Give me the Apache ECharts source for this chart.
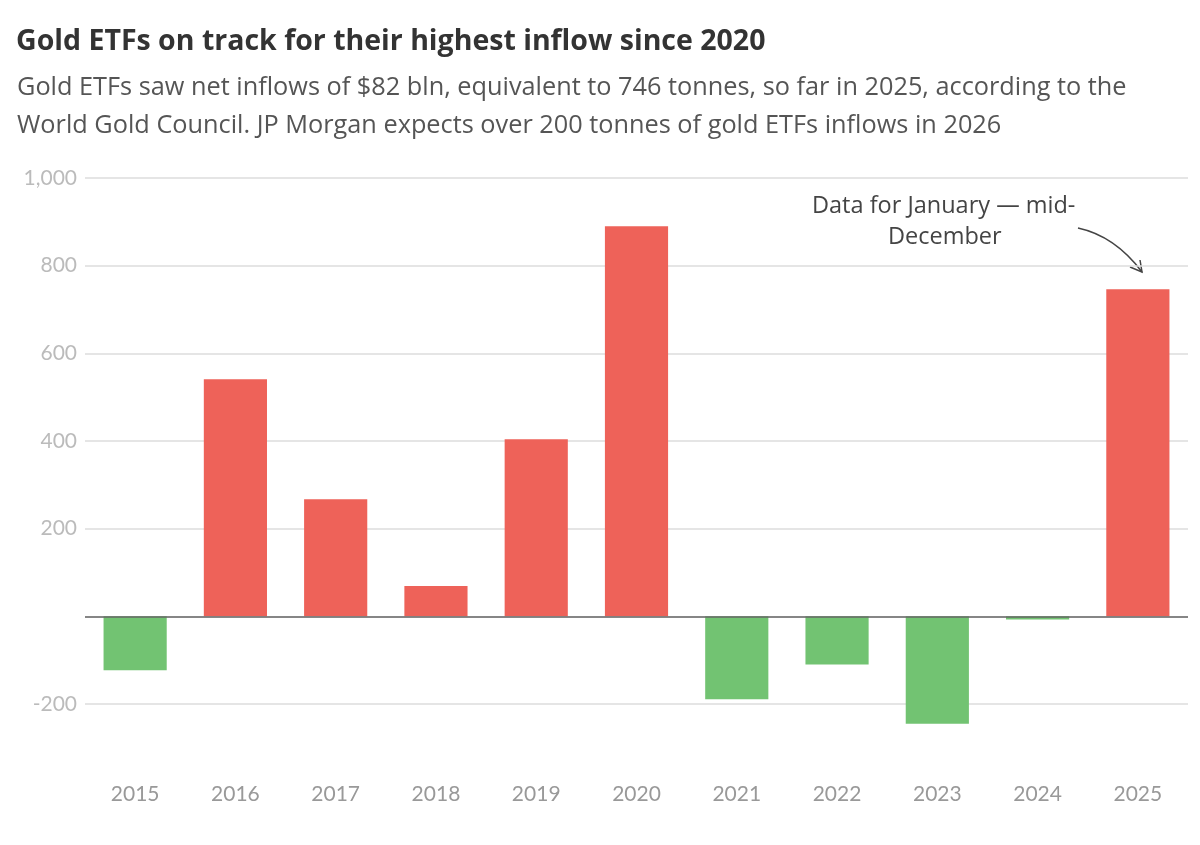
<!DOCTYPE html>
<html><head><meta charset="utf-8">
<script src="https://cdn.jsdelivr.net/npm/echarts@6/dist/echarts.min.js"></script>
<style>html,body{margin:0;padding:0;background:#fff}#c{width:1200px;height:845px}</style>
</head><body><div id="c"></div>
<script>
const years = ['2015','2016','2017','2018','2019','2020','2021','2022','2023','2024','2025'];
const flows = [-123, 541, 267, 69, 404, 890, -189, -110, -245, -7, 746];
const yTicks = {min: -200, max: 1000, interval: 200};
const POS = '#EE6259', NEG = '#72C372';

const chart = echarts.init(document.getElementById('c'));
chart.setOption({
  backgroundColor: '#fff',
  animation: false,
  title: [{
    text: 'Gold ETFs on track for their highest inflow since 2020',
    left: 11, top: 22,
    textStyle: {fontFamily: 'Open Sans', fontWeight: 'bold', fontSize: 28.5, color: '#333'}
  }, {
    text: 'Gold ETFs saw net inflows of $82 bln, equivalent to 746 tonnes, so far in 2025, according to the\nWorld Gold Council. JP Morgan expects over 200 tonnes of gold ETFs inflows in 2026',
    left: 12, top: 64,
    textStyle: {fontFamily: 'Open Sans', fontWeight: 'normal', fontSize: 25.3, lineHeight: 38, color: '#555'}
  }],
  grid: {left: 85, right: 12, top: 178, bottom: 141},
  xAxis: {
    type: 'category', data: years,
    axisLine: {show: false}, axisTick: {show: false},
    axisLabel: {margin: 80, fontFamily: 'Lato', fontSize: 21, color: '#999'}
  },
  yAxis: {
    type: 'value', min: yTicks.min, max: yTicks.max, interval: yTicks.interval,
    axisLine: {show: false}, axisTick: {show: false},
    splitLine: {lineStyle: {color: '#ddd', width: 1.5}},
    axisLabel: {margin: 8, fontFamily: 'Lato', fontSize: 21, color: '#bbb',
      formatter: v => v === 0 ? '' : v.toLocaleString('en-US')}
  },
  series: [{
    type: 'bar', barCategoryGap: '37%', clip: false,
    data: flows.map(v => ({value: v, itemStyle: {color: v >= 0 ? POS : NEG}})),
    markLine: {
      silent: true, symbol: 'none', label: {show: false},
      lineStyle: {color: '#666', width: 1.5, type: 'solid'},
      data: [{yAxis: 0}]
    }
  }],
  graphic: [{
    type: 'text', left: 812, top: 194,
    style: {text: 'Data for January — mid-', fontFamily: 'Open Sans', fontSize: 23.5, fill: '#444'}
  }, {
    type: 'text', left: 888, top: 225,
    style: {text: 'December', fontFamily: 'Open Sans', fontSize: 23.5, fill: '#444'}
  }, {
    type: 'bezierCurve',
    shape: {x1: 1078, y1: 228, x2: 1142, y2: 272, cpx1: 1115, cpy1: 236},
    style: {stroke: '#444', lineWidth: 1.5, fill: null}
  }, {
    type: 'polyline',
    shape: {points: [[1130, 267], [1142, 272], [1140, 260]]},
    style: {stroke: '#444', lineWidth: 1.5, fill: null}
  }]
});
</script></body></html>
